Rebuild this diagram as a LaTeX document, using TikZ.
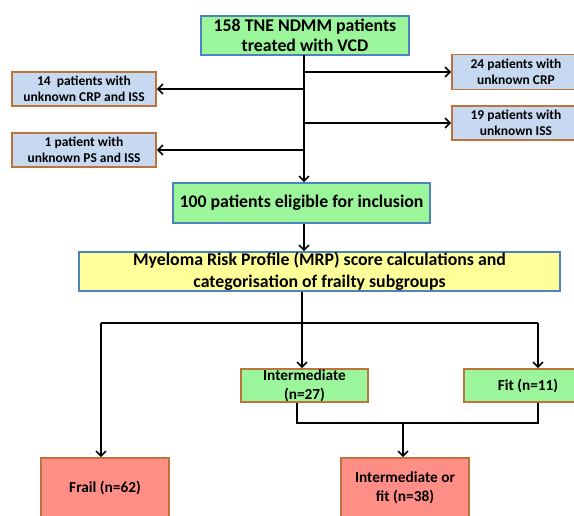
\documentclass[tikz,border=0pt]{standalone}
\usepackage{fontspec}
\setmainfont{Carlito}
\usetikzlibrary{arrows.meta}
\definecolor{gfill}{RGB}{155,245,155}
\definecolor{bborder}{RGB}{79,129,189}
\definecolor{lbfill}{RGB}{198,217,241}
\definecolor{oborder}{RGB}{188,116,58}
\definecolor{yfill}{RGB}{255,255,153}
\definecolor{rfill}{RGB}{255,142,134}
\tikzset{
  box/.style={draw, line width=1.6pt, rectangle, inner sep=0pt, align=center, font=\bfseries},
  gbox/.style={box, fill=gfill, draw=bborder},
  ybox/.style={box, fill=yfill, draw=bborder},
  lbbox/.style={box, fill=lbfill, draw=oborder, font=\fontsize{13.5}{16.5}\selectfont\bfseries},
  gobox/.style={box, fill=gfill, draw=oborder, font=\fontsize{15.3}{19}\selectfont\bfseries},
  rbox/.style={box, fill=rfill, draw=oborder, font=\fontsize{15.3}{19}\selectfont\bfseries},
  conn/.style={line width=2pt, black},
  arr/.style={conn, -{Straight Barb[length=5pt,width=10pt,line width=1.6pt]}}
}
\begin{document}
\begin{tikzpicture}[x=1pt,y=-1pt]
\useasboundingbox (0,0) rectangle (574,515);
\clip (0,0) rectangle (574,515);
% nodes
\node[gbox, minimum width=208pt, minimum height=39pt, font=\fontsize{17.8}{20}\selectfont\bfseries] (top) at (305,35.5) {158 TNE NDMM patients\\treated with VCD};
\node[lbbox, minimum width=144pt, minimum height=34pt] (l1) at (84,89) {14\ \ patients with\\unknown CRP and ISS};
\node[lbbox, minimum width=144pt, minimum height=34pt] (l2) at (84,150) {1 patient with\\unknown PS and ISS};
\node[lbbox, minimum width=128pt, minimum height=35pt] (r1) at (516,72) {24 patients with\\unknown CRP};
\node[lbbox, minimum width=128pt, minimum height=34pt] (r2) at (516,123) {19 patients with\\unknown ISS};
\node[gbox, minimum width=257pt, minimum height=40pt, font=\fontsize{17.8}{20}\selectfont\bfseries] (elig) at (301.5,203) {100 patients eligible for inclusion};
\node[ybox, minimum width=481pt, minimum height=39pt, font=\fontsize{17.8}{21.5}\selectfont\bfseries] (mrp) at (319.5,271.5) {Myeloma Risk Profile (MRP) score calculations and\\categorisation of frailty subgroups};
\node[gobox, minimum width=127pt, minimum height=33pt] (inter) at (304.5,385.5) {Intermediate\\(n=27)};
\node[gobox, minimum width=128pt, minimum height=33pt] (fit) at (528,385.5) {Fit (n=11)};
\node[rbox, minimum width=128pt, minimum height=60pt] (frail) at (105,488) {Frail (n=62)};
\node[rbox, minimum width=128pt, minimum height=60pt] (iof) at (405,488) {Intermediate or\\fit (n=38)};
% coordinates
\coordinate (t) at (304,55);
\coordinate (bl) at (101,323);
\coordinate (bm) at (302,323);
\coordinate (br) at (538,323);
\coordinate (jl) at (297,423);
\coordinate (jm) at (403,423);
\coordinate (jr) at (538,423);
% connectors
\draw[arr] (t) -- (t |- elig.north);
\draw[arr] (t |- r1) -- (r1.west);
\draw[arr] (t |- l1) -- (l1.east);
\draw[arr] (t |- r2) -- (r2.west);
\draw[arr] (t |- l2) -- (l2.east);
\draw[arr] (t |- elig.south) -- (t |- mrp.north);
\draw[conn] (bm |- mrp.south) -- (bm);
\draw[conn] (bl) -- (br);
\draw[arr] (bl) -- (bl |- frail.north);
\draw[arr] (bm) -- (bm |- inter.north);
\draw[arr] (br) -- (br |- fit.north);
\draw[conn] (jl |- inter.south) -- (jl) -- (jr) -- (jr |- fit.south);
\draw[arr] (jm) -- (jm |- iof.north);
\end{tikzpicture}
\end{document}
